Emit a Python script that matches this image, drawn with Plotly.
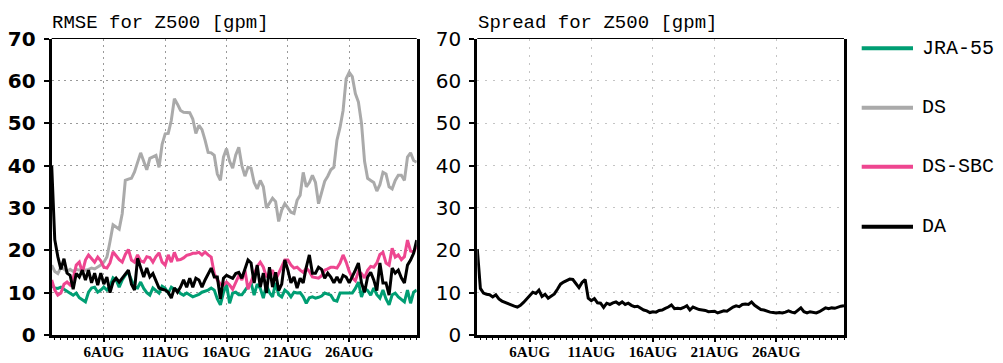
import plotly.graph_objects as go

# ---------------- data (6-hourly, starting 1 AUG 18UTC) ----------------
start_day = 1.75
step_day = 0.25

tick_days = [6, 11, 16, 21, 26]
tick_labels = ["6AUG", "11AUG", "16AUG", "21AUG", "26AUG"]
y_ticks = [0, 10, 20, 30, 40, 50, 60, 70]

series_names = ["JRA-55", "DS", "DS-SBC", "DA"]
series_colors = ["#009E73", "#AAAAAA", "#EE4690", "#000000"]

rmse_jra55 = [
    11.8, 11.1, 11, 11.3, 10.8, 10.3, 9.9, 9.4, 9.9, 8.8,
    8.3, 7.8, 10.1, 11.1, 11.3, 10.1, 10.6, 11.3, 10.6, 11.5,
    13.5, 13, 11.3, 13, 14.1, 14.8, 13, 11.3, 11.1, 12.5,
    11, 10, 9.4, 11.1, 10.5, 9.9, 11.5, 11, 9.9, 11.3,
    10.8, 10.6, 9.8, 9.4, 9.9, 9.4, 9, 9.3, 9.6, 10.1,
    10.4, 10.6, 11.1, 10.6, 8.5, 7.1, 10, 12, 7.5, 9.9,
    10.1, 9.5, 9.5, 10.6, 11.5, 12.3, 9.4, 12, 11, 8.7,
    11.8, 10, 9, 12.3, 9.5, 9, 10.6, 10, 9, 10.1,
    9.9, 10, 9, 7.5, 8.8, 9, 8.7, 8.9, 9.2, 9.9,
    9.6, 9.4, 8.2, 8, 9.9, 9.9, 9.9, 9.9, 9.9, 11,
    12.5, 9, 11, 10.5, 9.4, 11.1, 9.5, 8.7, 10.6, 8.5,
    7.1, 9.5, 9.9, 9, 8.3, 7.8, 10.6, 7.5, 10.1, 10.6,
]

rmse_ds = [
    16.5, 15, 14.5, 16, 15.5, 15, 15.5, 15, 15.5, 15.3,
    15.5, 15.3, 15.5, 15.8, 15.6, 16, 16.5, 17.2, 18.4, 22,
    26, 25.5, 25, 28.7, 36.5, 36.8, 37, 38.5, 41, 43,
    41, 39, 41.7, 42, 42.4, 39.6, 45, 47.5, 47.6, 50.7,
    55.8, 54.5, 53, 52.6, 52.5, 52.5, 51, 47.6, 49.5, 48.5,
    46, 43.1, 43, 42.4, 38, 36.5, 42, 44, 41, 39.4,
    42.5, 44.3, 40, 37.5, 39.6, 39.4, 36, 34.5, 36.5, 35,
    30, 31, 32.3, 31.5, 26.8, 29.5, 31, 30, 29, 28.7,
    31.8, 33, 38.4, 35, 36, 37.7, 36, 31, 34, 36.3,
    37.5, 39, 39.6, 46, 49, 53, 60.5, 62, 61, 57,
    55, 50, 41, 37, 36.5, 36, 34, 35.5, 38.4, 38,
    35, 34.5, 36.5, 37.7, 37.7, 36.5, 42, 43, 41.2, 40.8,
]

rmse_ds_sbc = [
    13, 10.6, 9.4, 9.9, 12, 12.5, 11.8, 13.4, 16.5, 17.2,
    14.8, 17.7, 18.9, 18.1, 17.2, 18.4, 17.5, 16, 15.8, 17,
    19.6, 18.7, 17.8, 17.2, 19, 20.2, 17.7, 17.2, 18.9, 17.5,
    17.2, 18.5, 18.3, 17.2, 18.5, 19.4, 17.2, 16.5, 18.9, 17.2,
    19.5, 17.7, 17.8, 18.2, 18.8, 19, 19.3, 19.3, 19.5, 18.9,
    19.6, 18.9, 18.4, 14.5, 13, 12, 11.8, 12.5, 11.8, 10.8,
    12.5, 14, 13, 15.3, 10.8, 12.5, 14.5, 16.2, 17.2, 16,
    13.7, 14.5, 15.3, 13, 14.5, 16, 17.7, 17.7, 16.5, 15.8,
    16, 15.3, 14.8, 15.8, 15, 13.7, 13.5, 13.4, 14, 15.3,
    15.6, 16, 16, 15.8, 17, 18.9, 17.2, 15, 13.5, 12.8,
    15, 14.5, 13.5, 15.3, 16.2, 16, 17, 19, 19.5, 17,
    16.5, 20.5, 18.4, 18.9, 17.8, 18.5, 22.4, 19.8, 19.6, 21,
]

rmse_da = [
    40, 22.5, 18.5, 15.5, 18, 14.6, 14.1, 10.8, 14.5, 13.7,
    15.3, 13, 15.3, 12.3, 14.6, 11.8, 14.6, 12, 13.7, 10,
    12.5, 13.4, 12.5, 13.5, 14.6, 15.3, 12, 10.6, 18.1, 16,
    13.7, 15.8, 13.7, 14.5, 13, 11.1, 10.8, 10.6, 10.1, 8.7,
    11.1, 10.1, 11.3, 13, 11.3, 13.4, 11.3, 13.4, 13, 11.3,
    13, 14.5, 15.8, 13.7, 13.7, 8.5, 13.4, 14.1, 13.7, 13.4,
    14.5, 14.8, 13.4, 15.5, 17.7, 17, 12.3, 16.5, 11.3, 14.6,
    9.9, 16, 11.3, 14.8, 10.5, 12, 17.7, 15.3, 12.3, 13.7,
    11.1, 13.4, 12.3, 16, 18.9, 14.6, 14.6, 16, 15.5, 13.4,
    14.6, 13.7, 12.3, 13.7, 12.3, 14.1, 13.7, 12.3, 13.7, 15.3,
    17, 12.3, 10.1, 13.7, 14.8, 13, 10.5, 17, 12.3, 12.3,
    9.4, 15.8, 14.6, 15.3, 13.5, 12.3, 16.5, 17.7, 19.3, 22.4,
]

spread_da = [
    20.3, 11, 9.9, 9.6, 9.5, 9, 9.5, 8.5, 8, 7.7,
    7.3, 7, 6.8, 6.6, 7, 7.7, 8.5, 9.3, 10.1, 9.8,
    10.6, 9.1, 9.6, 8.7, 9.2, 9.7, 10.8, 12, 12.5, 12.9,
    13.2, 13.1, 12.2, 11.2, 12.4, 13.1, 8.7, 8.1, 8.6, 7.6,
    7.5, 6.5, 7.5, 7.2, 7.6, 7.8, 7.3, 7.8, 7.2, 7.5,
    7, 6.7, 6.8, 6.3, 5.9, 5.7, 5.3, 5.5, 5.4, 5.8,
    5.9, 6.3, 6.6, 7.1, 6.2, 6.3, 6.2, 6.5, 6.9, 5.9,
    6.6, 6.3, 6, 5.9, 5.8, 5.5, 5.6, 5.6, 5.2, 5.4,
    5.7, 5.6, 6.2, 6.6, 6.9, 6.7, 7.2, 7.3, 7.2, 7.8,
    7, 6.4, 6, 5.9, 5.6, 5.4, 5.3, 5.2, 5.3, 5.2,
    5.4, 5.7, 5.4, 5.2, 5.8, 6.4, 5.5, 5.2, 5.5, 5.3,
    5.2, 5.5, 5.9, 6.4, 6.2, 6.4, 6.3, 6.6, 6.8, 6.9,
]


def times(vals):
    return [start_day + step_day * i for i in range(len(vals))]


rmse_series = [rmse_jra55, rmse_ds, rmse_ds_sbc, rmse_da]

fig = go.Figure()
for name, vals, col in zip(series_names, rmse_series, series_colors):
    fig.add_trace(go.Scatter(x=times(vals), y=vals, mode="lines", name=name,
                             line=dict(color=col, width=3), showlegend=False,
                             xaxis="x", yaxis="y"))
fig.add_trace(go.Scatter(x=times(spread_da), y=spread_da, mode="lines", name="DA spread",
                         line=dict(color="#000000", width=3), showlegend=False,
                         xaxis="x2", yaxis="y2"))

W, H = 1003, 363
x_end = start_day + step_day * (len(rmse_da) - 1)


def xax(domain, anchor, gridcol, griddash):
    return dict(domain=domain, anchor=anchor, range=[start_day, x_end], automargin=False,
                tickmode="array", tickvals=tick_days, ticktext=tick_labels,
                ticks="outside", ticklen=4, tickwidth=1.5, tickcolor="black",
                showline=True, linewidth=2.5, linecolor="black", mirror=False,
                showgrid=True, gridcolor=gridcol, gridwidth=1, griddash=griddash,
                zeroline=False, ticklabelstandoff=-3,
                tickfont=dict(family="Liberation Serif", size=15, color="black", weight="bold"),
                minor=dict(ticks="outside", ticklen=2, tickwidth=1, tickcolor="black",
                           dtick=0.5, tick0=0, showgrid=False))


def yax(domain, anchor, gridcol, griddash, font):
    return dict(domain=domain, anchor=anchor, range=[0, 70], automargin=False,
                tickmode="array", tickvals=y_ticks,
                ticks="outside", ticklen=5, tickwidth=1.5, tickcolor="black",
                showline=True, linewidth=3, linecolor="black", mirror=True,
                showgrid=True, gridcolor=gridcol, gridwidth=1, griddash=griddash,
                zeroline=False, tickfont=font, ticklabelstandoff=4)


ydom = [(H - 335) / H, (H - 38.5) / H]
fig.update_layout(
    width=W, height=H, margin=dict(l=0, r=0, t=0, b=0, autoexpand=False),
    paper_bgcolor="white", plot_bgcolor="white", showlegend=False,
    xaxis=xax([51.7 / W, 416.7 / W], "y", "#9a9a9a", "2px,4px"),
    yaxis=yax(ydom, "x", "#9a9a9a", "2px,4px",
              dict(family="DejaVu Sans", size=20, color="black", weight="bold")),
    xaxis2=xax([477.3 / W, 844 / W], "y2", "#c4c4c4", "2px,6px"),
    yaxis2=yax(ydom, "x2", "#c4c4c4", "2px,6px",
               dict(family="DejaVu Sans", size=20, color="black")),
)

# thin top border of each panel
for xr, yr in [("x domain", "y domain"), ("x2 domain", "y2 domain")]:
    fig.add_shape(type="line", xref=xr, yref=yr, x0=0, x1=1, y0=1, y1=1,
                  line=dict(color="black", width=1))

# panel titles
title_font = dict(family="Liberation Mono", size=19, color="black")
fig.add_annotation(text="RMSE for Z500 [gpm]", xref="paper", yref="paper",
                   x=50 / W, y=(H - 23) / H, xanchor="left", yanchor="middle",
                   showarrow=False, font=title_font)
fig.add_annotation(text="Spread for Z500 [gpm]", xref="paper", yref="paper",
                   x=475.5 / W, y=(H - 23) / H, xanchor="left", yanchor="middle",
                   showarrow=False, font=title_font)

# legend drawn at the right
legend_y = [48.3, 107.7, 166.7, 226.7]
for name, col, yy in zip(series_names, series_colors, legend_y):
    fig.add_shape(type="line", xref="paper", yref="paper",
                  x0=861.7 / W, x1=913 / W, y0=(H - yy) / H, y1=(H - yy) / H,
                  line=dict(color=col, width=4))
    fig.add_annotation(text=name, xref="paper", yref="paper",
                       x=920 / W, y=(H - yy) / H, xanchor="left", yanchor="middle",
                       showarrow=False,
                       font=dict(family="Liberation Mono", size=20, color="black"))

fig.write_html("out.html")
